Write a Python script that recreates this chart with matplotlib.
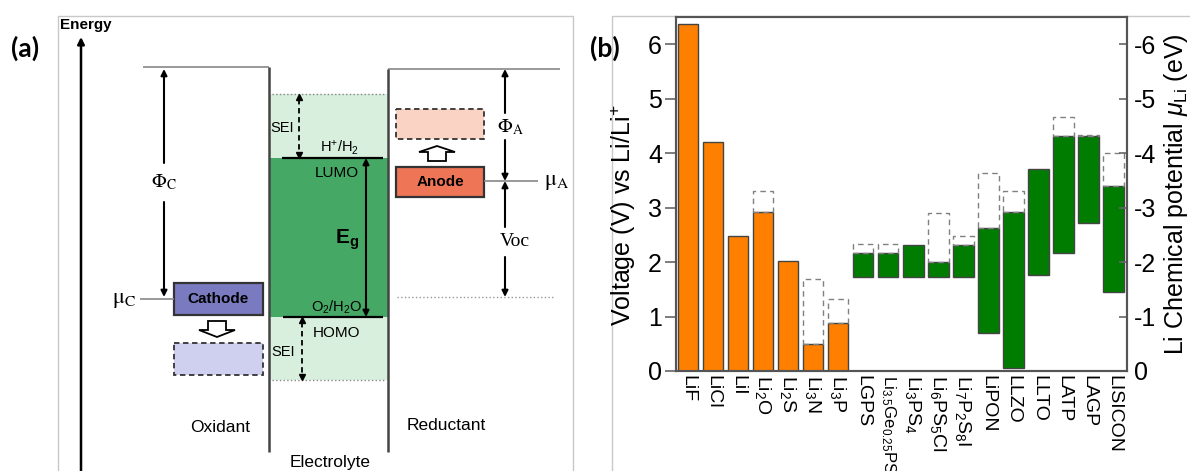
import matplotlib
matplotlib.use('Agg')
import matplotlib.pyplot as plt
import numpy as np
from matplotlib.patches import Rectangle, Polygon

plt.rcParams['font.family'] = ['Liberation Sans', 'DejaVu Sans']
plt.rcParams['mathtext.fontset'] = 'custom'
plt.rcParams['mathtext.rm'] = 'Liberation Sans'
plt.rcParams['mathtext.it'] = 'Liberation Sans:italic'
plt.rcParams['mathtext.bf'] = 'Liberation Sans:bold'
plt.rcParams['axes.unicode_minus'] = False

# ---- panel (b) data: voltage window of each material (V vs Li/Li+) ----
materials = ['LiF', 'LiCl', 'LiI', 'Li$_2$O', 'Li$_2$S', 'Li$_3$N', 'Li$_3$P',
             'LGPS', 'Li$_{3.5}$Ge$_{0.25}$PS', 'Li$_3$PS$_4$', 'Li$_6$PS$_5$Cl',
             'Li$_7$P$_2$S$_8$I', 'LiPON', 'LLZO', 'LLTO', 'LATP', 'LAGP', 'LISICON']
group = ['binary'] * 7 + ['electrolyte'] * 11
lower = [0, 0, 0, 0, 0, 0, 0,
         1.72, 1.72, 1.72, 1.72, 1.72, 0.69, 0.05, 1.76, 2.17, 2.72, 1.45]
upper = [6.37, 4.20, 2.48, 2.92, 2.02, 0.50, 0.88,
         2.16, 2.16, 2.31, 2.01, 2.31, 2.63, 2.92, 3.71, 4.31, 4.31, 3.40]
upper_extended = [np.nan, np.nan, np.nan, 3.30, np.nan, 1.69, 1.32,
                  2.33, 2.33, np.nan, 2.90, 2.48, 3.64, 3.30, np.nan, 4.66, 4.33, 4.00]
left_ticks = [0, 1, 2, 3, 4, 5, 6]
right_ticks = [0, -1, -2, -3, -4, -5, -6]

fig = plt.figure(figsize=(11.9, 4.71), dpi=100)

# ---- panel (a): schematic drawn in pixel coordinates ----
ax = fig.add_axes([0, 0, 1, 1])
ax.set_xlim(0, 1190)
ax.set_ylim(471, 0)
ax.axis('off')

border = '#c8c8c8'
ax.plot([58, 58, 573, 573], [471, 16, 16, 471], color=border, lw=1)
ax.plot([612, 612, 1190], [471, 16, 16], color=border, lw=1)

def line(xs, ys, **kw):
    kw.setdefault('color', 'k')
    kw.setdefault('lw', 1.5)
    ax.plot(xs, ys, solid_capstyle='butt', **kw)

def arrow(x, y0, y1, lw=1.5, ms=9):
    ax.annotate('', xy=(x, y1), xytext=(x, y0),
                arrowprops=dict(arrowstyle='-|>', color='k', lw=lw,
                                mutation_scale=ms, shrinkA=0, shrinkB=0))

def sym(x, y, main, sub, size=13):
    ax.text(x, y, '$\\mathrm{' + main + '}_{\\mathrm{' + sub + '}}$', fontsize=size,
            ha='center', va='center', math_fontfamily='stix')

ax.text(25, 48, '(a)', fontsize=19, fontweight='bold', family='Lato',
        ha='center', va='center')
ax.text(60, 25, 'Energy', fontsize=11, fontweight='bold', ha='left', va='center')
arrow(81, 471, 37, lw=1.8, ms=10)

# electrolyte window
ax.add_patch(Rectangle((270, 94), 118, 286, facecolor='#d8efdd', edgecolor='none'))
ax.add_patch(Rectangle((270, 158), 118, 159, facecolor='#45a865', edgecolor='none'))
line([272, 386], [94, 94], color='#888888', lw=1, ls=':')
line([272, 386], [380, 380], color='#888888', lw=1, ls=':')
line([282, 383], [158, 158], lw=1.6)
line([283, 383], [317, 317], lw=1.6)

# walls
line([143, 269], [67, 67], color='#888888', lw=1.2)
line([269, 269], [67, 452], color='#444444', lw=1.8)
line([388, 560], [69, 69], color='#888888', lw=1.2)
line([388, 388], [69, 452], color='#444444', lw=1.8)

# SEI dashed double arrows
for xs, y0, y1 in [(299, 94, 158), (302, 317, 380)]:
    line([xs, xs], [y0 + 5, y1 - 5], lw=1.3, ls=(0, (3, 2)))
    ax.plot([xs], [y0 + 3], marker='^', color='k', ms=4)
    ax.plot([xs], [y1 - 3], marker='v', color='k', ms=4)

ax.text(282, 128, 'SEI', fontsize=10.5, ha='center', va='center')
ax.text(283, 352, 'SEI', fontsize=10.5, ha='center', va='center')
ax.text(340, 148, 'H$^{+}$/H$_2$', fontsize=10.5, ha='center', va='center')
ax.text(337, 173, 'LUMO', fontsize=11, ha='center', va='center')
ax.text(347, 240, r'$\mathbf{E_g}$', fontsize=15, ha='center', va='center')
ax.text(337, 307, 'O$_2$/H$_2$O', fontsize=10.5, ha='center', va='center')
ax.text(337, 333, 'HOMO', fontsize=11, ha='center', va='center')

# Eg arrow
ax.annotate('', xy=(366, 158), xytext=(366, 317),
            arrowprops=dict(arrowstyle='<|-|>', color='k', lw=1.5,
                            mutation_scale=9, shrinkA=0, shrinkB=0))

# cathode side
arrow(164, 163, 69)
arrow(164, 202, 297)
sym(164, 182, 'Φ', 'C', size=14)
sym(124, 300, 'μ', 'C', size=16)
line([140, 174], [299, 299], color='#888888', lw=1.2)
ax.add_patch(Rectangle((174, 283), 89, 32, facecolor='#7a7ac0', edgecolor='#333333', lw=1.6))
ax.text(218, 299, 'Cathode', fontsize=11, fontweight='bold', ha='center', va='center')
ax.add_patch(Polygon([(208, 321), (226, 321), (226, 330), (235, 330), (217, 337),
                      (199, 330), (208, 330)], closed=True,
                     facecolor='white', edgecolor='k', lw=1.3))
ax.add_patch(Rectangle((174, 343), 89, 32, facecolor='#cfcff0', edgecolor='#333333',
                       lw=1.3, ls=(0, (3, 2))))
ax.text(220, 427, 'Oxidant', fontsize=12.5, ha='center', va='center')
ax.text(330, 463, 'Electrolyte', fontsize=12.5, ha='center', va='center')
ax.text(446, 426, 'Reductant', fontsize=12.5, ha='center', va='center')

# anode side
ax.add_patch(Rectangle((396, 109), 88, 30, facecolor='#fad3c4', edgecolor='#333333',
                       lw=1.3, ls=(0, (3, 2))))
ax.add_patch(Polygon([(428, 161), (446, 161), (446, 152), (455, 152), (437, 146),
                      (419, 152), (428, 152)], closed=True,
                     facecolor='white', edgecolor='k', lw=1.3))
ax.add_patch(Rectangle((396, 167), 88, 30, facecolor='#ee7556', edgecolor='#333333', lw=1.6))
ax.text(440, 182, 'Anode', fontsize=11, fontweight='bold', ha='center', va='center')
line([484, 538], [181, 181], color='#888888', lw=1.2)
sym(557, 182, 'μ', 'A', size=16)
arrow(505, 113, 69)
arrow(505, 140, 181)
sym(510, 127, 'Φ', 'A', size=14)
arrow(505, 227, 181)
arrow(505, 257, 297)
ax.text(515, 242, 'Voc', fontsize=14, family='Liberation Serif', ha='center', va='center')
line([397, 553], [297, 297], color='#999999', lw=1, ls=':')

# ---- panel (b) ----
axb = fig.add_axes([676 / 1190, 100 / 471, 451 / 1190, 354 / 471])
x = np.arange(len(materials))
lo = np.array(lower)
hi = np.array(upper)
ext = np.array(upper_extended)
colors = ['#ff8000' if g == 'binary' else '#007d00' for g in group]
axb.bar(x, hi - lo, bottom=lo, width=0.82, color=colors, edgecolor='#444444', lw=1)
m = ~np.isnan(ext)
axb.bar(x[m], ext[m] - hi[m], bottom=hi[m], width=0.82, fill=False,
        edgecolor='#808080', lw=1, ls=(0, (4, 3)))

axb.set_xlim(-0.48, 17.54)
axb.set_ylim(0, 6.5)
axb.set_yticks(left_ticks)
axb.set_xticks(x)
labels = axb.set_xticklabels(materials, rotation=270, fontsize=14, va='top', ha='center')
labels[8].set_fontsize(12)
axb.tick_params(axis='x', length=0, pad=3)
axb.tick_params(axis='y', direction='out', length=8, width=1.2, color='#666666',
                labelsize=18, pad=2)
axb.set_ylabel('Voltage (V) vs Li/Li$^{+}$', fontsize=18)
axb.yaxis.set_label_coords(-0.085, 0.44)

axr = axb.twinx()
axr.set_ylim(0, -6.5)
axr.set_yticks(right_ticks)
axr.tick_params(axis='y', direction='in', length=6, width=1.2, color='#666666',
                labelsize=18, pad=5)
axr.set_ylabel(r'Li Chemical potential $\mu_{\mathrm{Li}}$ (eV)', fontsize=18, labelpad=4)

for a in (axb, axr):
    for s in a.spines.values():
        s.set_color('#555555')
        s.set_linewidth(1.5)

fig.text(605 / 1190, 1 - 48 / 471, '(b)', fontsize=19, fontweight='bold',
         family='Lato', ha='center', va='center')

fig.savefig('out.png', dpi=100)
